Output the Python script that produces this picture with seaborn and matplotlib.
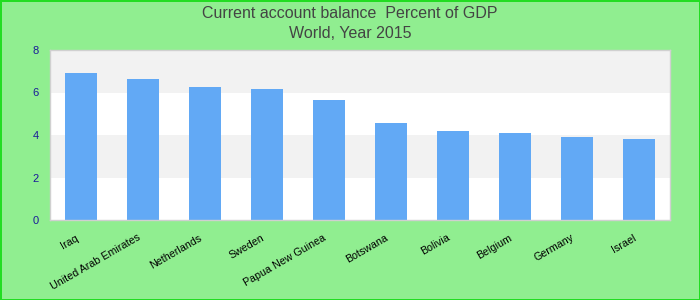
import matplotlib
matplotlib.use("Agg")
import matplotlib.pyplot as plt
import matplotlib.transforms as mtransforms
import seaborn as sns
import pandas as pd

countries = ["Iraq", "United Arab Emirates", "Netherlands", "Sweden", "Papua New Guinea",
             "Botswana", "Bolivia", "Belgium", "Germany", "Israel"]
values = [6.92, 6.64, 6.26, 6.16, 5.65, 4.56, 4.19, 4.09, 3.91, 3.81]
yticks = [0, 2, 4, 6, 8]

sns.set_theme(style="white")
plt.rcParams['font.family'] = ['Liberation Sans', 'DejaVu Sans']

df = pd.DataFrame({"country": countries, "value": values})

fig = plt.figure(figsize=(7, 3), dpi=100, facecolor="#90ee90")
fig.patch.set_edgecolor("#22dd22")
fig.patch.set_linewidth(2)
ax = fig.add_axes([50/700, 1 - 220/300, 620/700, 170/300])
ax.set_facecolor("white")

for lo, hi in zip(yticks[:-1], yticks[1:]):
    if lo in (2, 6):
        ax.axhspan(lo, hi, color="#f2f2f2", zorder=0, lw=0)

sns.barplot(data=df, x="country", y="value", color="#62a9f5", width=0.52,
            saturation=1, ax=ax, zorder=2, linewidth=0)

ax.set_ylim(0, 8)
ax.set_xlim(-0.5, len(countries) - 0.5)
ax.set_yticks(yticks)
ax.set_yticklabels([str(t) for t in yticks], color="#1a1a99", fontsize=8)
ax.tick_params(axis="y", length=0, pad=8)
ax.tick_params(axis="x", length=0, pad=4)
ax.set_xticks(range(len(countries)))
ax.set_xticklabels(countries, rotation=30, ha="right", rotation_mode="anchor",
                   fontsize=7.7, color="black")
offset = mtransforms.ScaledTranslation(-6/100, -7/100, fig.dpi_scale_trans)
for lbl in ax.get_xticklabels():
    lbl.set_transform(lbl.get_transform() + offset)
ax.set_xlabel("")
ax.set_ylabel("")
for s in ax.spines.values():
    s.set_color("#d0d0d0")
    s.set_linewidth(1)

fig.text(0.5, 1 - 14/300, "Current account balance  Percent of GDP", ha="center", va="center",
         fontsize=11.5, color="#444444")
fig.text(0.5, 1 - 34/300, "World, Year 2015", ha="center", va="center",
         fontsize=11.5, color="#444444")

fig.savefig("out.png", dpi=100, facecolor=fig.get_facecolor(), edgecolor=fig.get_edgecolor())
